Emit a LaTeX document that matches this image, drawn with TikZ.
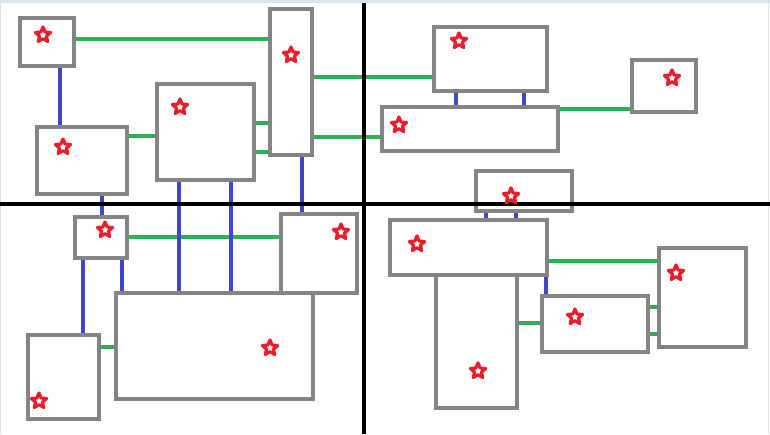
\documentclass[tikz,border=0pt]{standalone}
\usetikzlibrary{shapes.geometric}
\definecolor{boxgray}{HTML}{848484}
\definecolor{lgreen}{HTML}{2DB04F}
\definecolor{lblue}{HTML}{3F48CC}
\definecolor{sred}{HTML}{E81E2A}
\definecolor{frame}{HTML}{DCE3EC}
\tikzset{
  box/.style={draw=boxgray, line width=3.4pt, fill=white, inner sep=0pt, rectangle},
  gline/.style={draw=lgreen, line width=3.2pt},
  bline/.style={draw=lblue, line width=3.2pt},
  axisline/.style={draw=black, line width=3.2pt},
  redstar/.style={star, star points=5, star point ratio=2.2, minimum size=16pt, inner sep=0pt, draw=sred, line width=3.2pt, fill=white, line join=round}
}
\begin{document}
\begin{tikzpicture}[x=1pt,y=-1pt]
\useasboundingbox (0,0) rectangle (770,434);
\fill[white] (0,0) rectangle (770,434);
\fill[frame] (0,0) rectangle (770,3);
\fill[frame] (0,0) rectangle (1.2,434);
\fill[frame] (767.5,0) rectangle (769,434);
% boxes
\node[box, minimum width=54pt, minimum height=48pt] (A) at (47,42) {};
\node[box, minimum width=42pt, minimum height=146pt] (B) at (291,82) {};
\node[box, minimum width=97pt, minimum height=96pt] (C) at (205.5,132) {};
\node[box, minimum width=90pt, minimum height=67pt] (D) at (82,160.5) {};
\node[box, minimum width=52pt, minimum height=41pt] (E) at (101,237.5) {};
\node[box, minimum width=76pt, minimum height=79pt] (F) at (319,253.5) {};
\node[box, minimum width=197pt, minimum height=106pt] (G) at (214.5,346) {};
\node[box, minimum width=71pt, minimum height=84pt] (H) at (63.5,377) {};
\node[box, minimum width=113pt, minimum height=64pt] (I) at (490.5,59) {};
\node[box, minimum width=176pt, minimum height=44pt] (J) at (470,129) {};
\node[box, minimum width=64pt, minimum height=52pt] (K) at (664,86) {};
\node[box, minimum width=96pt, minimum height=40pt] (L) at (524,191) {};
\node[box, minimum width=157pt, minimum height=55pt] (M) at (468.5,247.5) {};
\node[box, minimum width=81pt, minimum height=133pt] (N) at (476.5,341.5) {};
\node[box, minimum width=106pt, minimum height=56pt] (O) at (595,324) {};
\node[box, minimum width=87pt, minimum height=99pt] (P) at (702.5,297.5) {};
% green connectors
\draw[gline] (A.east |- 0,39) -- (B.west |- 0,39);
\draw[gline] (D.east |- 0,136) -- (C.west |- 0,136);
\draw[gline] (C.east |- 0,123) -- (B.west |- 0,123);
\draw[gline] (C.east |- 0,152) -- (B.west |- 0,152);
\draw[gline] (B.east |- 0,77) -- (I.west |- 0,77);
\draw[gline] (B.east |- 0,137) -- (J.west |- 0,137);
\draw[gline] (J.east |- 0,109) -- (K.west |- 0,109);
\draw[gline] (E.east |- 0,237) -- (F.west |- 0,237);
\draw[gline] (H.east |- 0,347) -- (G.west |- 0,347);
\draw[gline] (M.east |- 0,261) -- (P.west |- 0,261);
\draw[gline] (N.east |- 0,323) -- (O.west |- 0,323);
\draw[gline] (O.east |- 0,307) -- (P.west |- 0,307);
\draw[gline] (O.east |- 0,334) -- (P.west |- 0,334);
% blue connectors
\draw[bline] (A.south -| 60,0) -- (D.north -| 60,0);
\draw[bline] (D.south -| 102,0) -- (E.north -| 102,0);
\draw[bline] (C.south -| 179,0) -- (G.north -| 179,0);
\draw[bline] (C.south -| 231,0) -- (G.north -| 231,0);
\draw[bline] (B.south -| 302,0) -- (F.north -| 302,0);
\draw[bline] (E.south -| 83,0) -- (H.north -| 83,0);
\draw[bline] (E.south -| 122,0) -- (G.north -| 122,0);
\draw[bline] (I.south -| 456,0) -- (J.north -| 456,0);
\draw[bline] (I.south -| 524,0) -- (J.north -| 524,0);
\draw[bline] (L.south -| 486,0) -- (M.north -| 486,0);
\draw[bline] (L.south -| 516,0) -- (M.north -| 516,0);
\draw[bline] (M.south -| 546,0) -- (O.north -| 546,0);
% axes
\coordinate (xl) at (0,204);
\coordinate (xr) at (770,204);
\coordinate (yt) at (364,3);
\coordinate (yb) at (364,434);
\draw[axisline] (xl) -- (xr);
\draw[axisline] (yt) -- (yb);
% stars
\node[redstar] (sA) at (43,35) {};
\node[redstar] (sB) at (291,55) {};
\node[redstar] (sC) at (180,107) {};
\node[redstar] (sD) at (63,147) {};
\node[redstar] (sE) at (105,230) {};
\node[redstar] (sF) at (341,232) {};
\node[redstar] (sG) at (270,348) {};
\node[redstar] (sH) at (39,401) {};
\node[redstar] (sI) at (459,41) {};
\node[redstar] (sJ) at (399,125) {};
\node[redstar] (sK) at (672,78) {};
\node[redstar] (sL) at (511,196) {};
\node[redstar] (sM) at (417,244) {};
\node[redstar] (sN) at (478,371) {};
\node[redstar] (sO) at (575,317) {};
\node[redstar] (sP) at (676,273) {};
\end{tikzpicture}
\end{document}
